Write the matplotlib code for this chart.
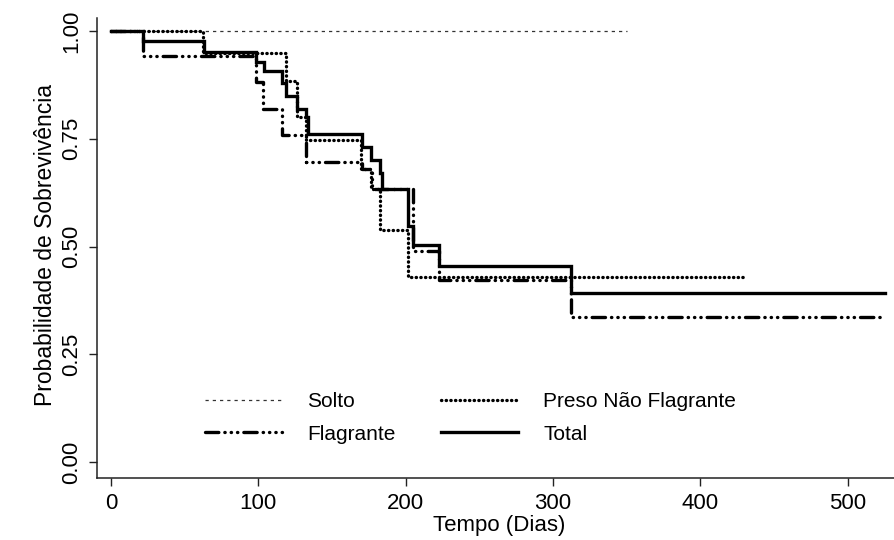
import matplotlib
matplotlib.use("Agg")
import matplotlib.pyplot as plt

plt.rcParams['font.family'] = ['Liberation Sans', 'DejaVu Sans']

# ---- data ----
solto_t = [0, 350]
solto_s = [1.0, 1.0]

pnf_t = [0, 62.6, 118.7, 126.4, 132.5, 169.4, 176.6, 182.5, 201.7, 430]
pnf_s = [1.0, 0.949, 0.884, 0.80, 0.747, 0.68, 0.633, 0.538, 0.43, 0.43]

flag_t = [0, 21.5, 98.4, 103.3, 115.8, 132.0, 170.0, 177.0, 205.0, 222.5, 311.9, 525]
flag_s = [1.0, 0.943, 0.882, 0.82, 0.759, 0.697, 0.68, 0.633, 0.49, 0.422, 0.337, 0.337]

total_t = [0, 21.5, 63.3, 98.4, 104.0, 115.8, 118.7, 126.4, 132.0, 133.4, 170.0,
           176.6, 182.2, 183.6, 201.7, 205.0, 222.5, 311.9, 525]
total_s = [1.0, 0.977, 0.952, 0.928, 0.907, 0.879, 0.848, 0.818, 0.80, 0.760, 0.732,
           0.70, 0.67, 0.633, 0.547, 0.503, 0.455, 0.392, 0.392]

x_ticks = [0, 100, 200, 300, 400, 500]
y_ticks = [0.0, 0.25, 0.50, 0.75, 1.0]
y_ticklabels = ["0.00", "0.25", "0.50", "0.75", "1.00"]

labels = {"solto": "Solto", "pnf": "Preso Não Flagrante",
          "flag": "Flagrante", "total": "Total"}

# ---- figure ----
fig = plt.figure(figsize=(8.95, 5.4), dpi=100)
ax = fig.add_axes([97/895, 1 - 477.7/540, 1 - 97/895, (477.7 - 18)/540])

h_solto, = ax.step(solto_t, solto_s, where='post', color='#333333', lw=0.9,
                   linestyle=(0, (2.6, 3.2)))
h_pnf, = ax.step(pnf_t, pnf_s, where='post', color='black', lw=2.4,
                 linestyle=(0, (0.1, 1.3)), dash_capstyle='round')
h_flag, = ax.step(flag_t, flag_s, where='post', color='black', lw=2.4,
                  linestyle=(0, (4.0, 1.8, 0.1, 1.8, 0.1, 1.8, 0.1, 1.8)),
                  dash_capstyle='round')
h_total, = ax.step(total_t, total_s, where='post', color='black', lw=2.4,
                   solid_joinstyle='miter')

ax.set_xlim(-9.5, 532)
ax.set_ylim(-0.036, 1.03)

ax.set_xticks(x_ticks)
ax.set_yticks(y_ticks)
ax.set_yticklabels(y_ticklabels)

for s in ['top', 'right']:
    ax.spines[s].set_visible(False)
for s in ['left', 'bottom']:
    ax.spines[s].set_linewidth(1.1)
    ax.spines[s].set_color('#222222')

ax.tick_params(axis='both', direction='out', length=6, width=1.0, color='#222222',
               labelsize=16)
ax.tick_params(axis='x', pad=5)
ax.tick_params(axis='y', pad=4.5, labelrotation=90)
for lab in ax.get_yticklabels():
    lab.set_va('center')

ax.set_xlabel("Tempo (Dias)", fontsize=16)
ax.set_ylabel("Probabilidade de Sobrevivência", fontsize=16.5)
ax.xaxis.set_label_coords((499 - 97) / 798, (477.7 - 515.5) / 459.7)
ax.yaxis.set_label_coords((57 - 97) / 798, (477.7 - 245) / 459.7)

# ncol=2 fills column-wise: col 1 = Solto, Flagrante; col 2 = PNF, Total
handles = [h_solto, h_flag, h_pnf, h_total]
leg_labels = [labels["solto"], labels["flag"], labels["pnf"], labels["total"]]
leg = ax.legend(handles, leg_labels, ncol=2, frameon=False,
                fontsize=15, handlelength=3.7, handletextpad=1.2, columnspacing=2.2,
                labelspacing=0.65, borderpad=0, borderaxespad=0,
                loc='upper left', bbox_to_anchor=(205/895, 1 - 392/540),
                bbox_transform=fig.transFigure)

fig.savefig("out.png", dpi=100)
